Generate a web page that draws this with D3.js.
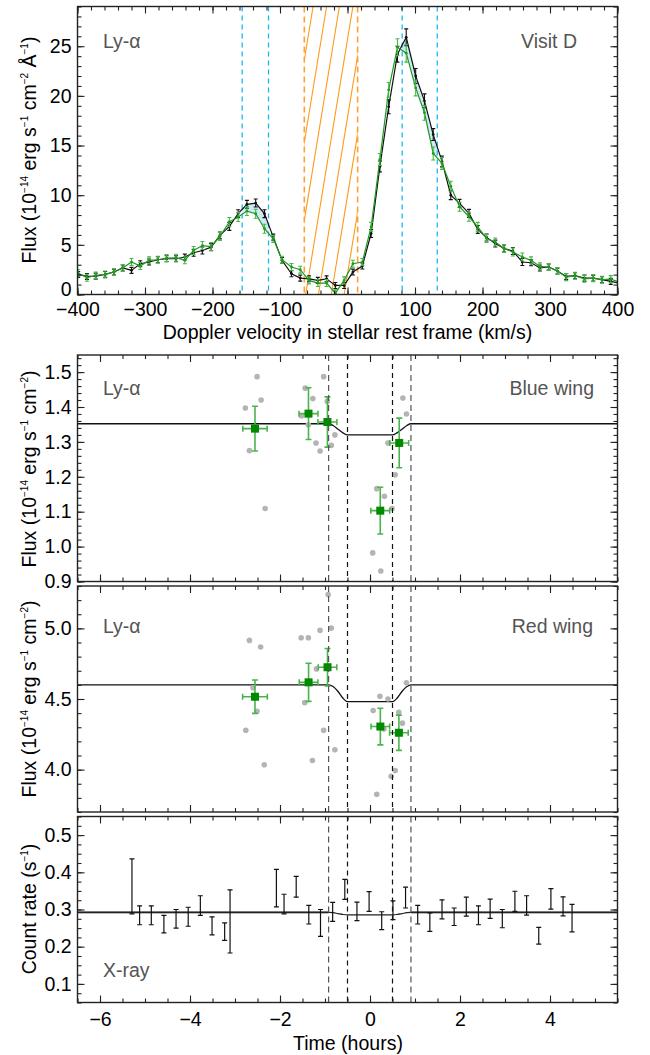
<!DOCTYPE html>
<html>
<head>
<meta charset="utf-8">
<script src="https://cdn.jsdelivr.net/npm/d3@7"></script>
<style>
body { margin: 0; background: #fff; }
svg text { font-family: "Liberation Sans", Arial, Helvetica, sans-serif; }
</style>
</head>
<body>
<svg id="fig" width="650" height="1055"></svg>
<script>
// ---- Ly-alpha spectrum (top panel) ----
var vel = [-399,-386,-373,-359,-346,-333,-320,-307,-294,-281,-268,-254,-241,-228,-215,-202,-189,-175,-162,-149,
  -136,-123,-110,-97,-83,-70,-57,-44,-31,-18,-5,8,22,35,48,61,74,87,101,114,127,140,153,166,180,193,206,219,232,
  245,259,272,285,298,311,324,337,351,364,377,390,403];
var fluxBlack = [2.02,1.82,1.85,2.02,2.26,2.67,2.43,3.10,3.27,3.50,3.60,3.60,3.77,4.20,4.43,4.77,5.95,6.86,8.14,9.08,
  9.21,8.14,5.78,3.44,2.09,1.65,1.58,1.42,1.58,0.91,0.91,2.26,2.87,6.14,12.9,18.9,24.2,25.9,22.0,19.5,16.1,13.4,10.0,
  9.18,8.17,6.55,5.74,5.13,4.63,4.38,3.27,3.20,2.67,2.77,2.36,1.82,1.89,1.65,1.65,1.49,1.32,1.15];
var errBlack = [0.3,0.3,0.3,0.3,0.3,0.3,0.3,0.3,0.3,0.3,0.3,0.3,0.3,0.35,0.35,0.35,0.35,0.4,0.4,0.4,0.4,0.4,
  0.3,0.3,0.3,0.3,0.3,0.3,0.3,0.3,0.3,0.3,0.3,0.4,0.55,0.7,0.8,0.85,0.75,0.7,0.6,0.55,0.45,0.4,0.4,0.4,
  0.35,0.35,0.35,0.35,0.35,0.3,0.3,0.3,0.3,0.3,0.3,0.3,0.3,0.3,0.3,0.3];
var fluxGreen = [2.16,1.69,1.92,2.02,2.26,2.67,3.27,2.87,3.44,3.50,3.67,3.70,3.44,4.43,4.93,4.83,5.85,7.30,7.80,8.40,
  8.13,6.62,5.60,3.50,2.77,2.50,1.42,1.15,1.15,0.13,1.42,3.10,3.27,6.81,13.6,20.6,24.9,24.3,20.8,18.3,14.2,13.2,10.9,
  8.84,7.83,6.81,5.64,5.29,4.63,4.28,3.78,3.44,2.83,2.77,2.36,1.75,1.89,1.58,1.65,1.49,1.55,1.25];
var errGreen = [0.35,0.35,0.35,0.35,0.35,0.35,0.35,0.35,0.35,0.35,0.35,0.35,0.35,0.4,0.4,0.4,0.4,0.45,0.45,0.45,0.45,0.45,
  0.35,0.35,0.35,0.35,0.35,0.35,0.35,0.35,0.35,0.35,0.35,0.45,0.6,0.75,0.85,0.9,0.8,0.75,0.65,0.6,0.5,0.45,0.45,0.45,
  0.4,0.4,0.4,0.4,0.4,0.35,0.35,0.35,0.35,0.35,0.35,0.35,0.35,0.35,0.35,0.35];
var blueBand = [-156, -117];
var redBand = [81, 133];
var geoBand = [-64, 15];
var hatchStart = [-140, -121, -101, -82, -62, -43, -24, -5];

// ---- Light curves ----
var dashTimes = [-0.92, -0.5, 0.5, 0.91];

var blueTime = [-2.556, -1.367, -0.946, 0.228, 0.649];
var blueFlux = [1.338, 1.381, 1.357, 1.103, 1.297];
var blueErr = [0.064, 0.074, 0.072, 0.067, 0.071];
var timeErr = [0.27, 0.21, 0.21, 0.21, 0.21];
var blueDotT = [-2.51,-2.42,-2.77,-2.68,-2.33,-1.44,-1.27,-1.52,-1.37,-1.20,-1.11,-1.03,-0.95,-0.78,-0.86,0.06,0.24,0.15,0.32,0.49,0.40,0.56,0.73,0.81];
var blueDotV = [1.487,1.420,1.397,1.275,1.109,1.454,1.424,1.374,1.349,1.297,1.274,1.487,1.416,1.320,1.290,0.982,0.930,1.166,1.144,1.109,1.297,1.206,1.426,1.380];
var modelT = [-6.5, -0.92, -0.82, -0.71, -0.6, -0.5, 0.5, 0.6, 0.71, 0.82, 0.91, 5.5];
var blueModel = [1.352, 1.352, 1.347, 1.336, 1.326, 1.320, 1.320, 1.326, 1.336, 1.347, 1.352, 1.352];

var redTime = [-2.556, -1.365, -0.944, 0.23, 0.642];
var redFlux = [4.516, 4.618, 4.725, 4.305, 4.261];
var redErr = [0.118, 0.135, 0.133, 0.13, 0.125];
var redTimeErr = [0.275, 0.207, 0.207, 0.207, 0.207];
var redDotT = [-2.68,-2.43,-2.60,-2.51,-2.76,-2.35,-1.53,-1.37,-1.11,-0.86,-0.93,-1.19,-1.45,-1.03,-1.28,-0.78,0.07,0.22,0.40,0.31,0.15,0.47,0.56,0.64,0.72,0.81];
var redDotV = [4.915,4.868,4.580,4.413,4.279,4.035,4.934,4.934,4.986,5.002,5.240,4.713,4.474,4.279,4.065,4.141,4.418,4.519,4.500,4.287,3.826,3.953,3.993,4.406,4.329,4.615];
var redModel = [4.600, 4.600, 4.588, 4.553, 4.505, 4.481, 4.481, 4.505, 4.553, 4.588, 4.600, 4.600];

var xrayTime = [-5.29,-5.12,-4.86,-4.58,-4.31,-4.04,-3.77,-3.51,-3.23,-3.11,-2.08,-1.91,-1.64,-1.36,-1.10,-0.83,-0.56,-0.29,
  -0.02,0.26,0.51,0.79,1.06,1.33,1.60,1.87,2.14,2.41,2.67,2.94,3.22,3.48,3.75,4.02,4.29,4.49];
var xrayLow = [0.288,0.259,0.259,0.237,0.250,0.255,0.284,0.232,0.217,0.183,0.307,0.288,0.333,0.261,0.228,0.268,0.327,0.270,
  0.295,0.246,0.273,0.304,0.261,0.241,0.275,0.257,0.282,0.259,0.276,0.251,0.295,0.285,0.207,0.301,0.283,0.240];
var xrayHigh = [0.436,0.310,0.310,0.284,0.300,0.306,0.337,0.280,0.264,0.353,0.408,0.341,0.389,0.311,0.300,0.319,0.381,0.320,
  0.348,0.294,0.323,0.360,0.311,0.291,0.326,0.304,0.333,0.310,0.328,0.300,0.349,0.337,0.252,0.356,0.334,0.314];
var xrayModel = [0.2925, 0.2925, 0.2915, 0.289, 0.2865, 0.2855, 0.2855, 0.2865, 0.289, 0.2915, 0.2925, 0.2925];

var svg = d3.select("#fig");
var L = 77.5, R = 617.5;
var FS = 19.5;

var xV = d3.scaleLinear().domain([-400, 400]).range([L, R]);
var yF = d3.scaleLinear().domain([0, 29]).range([294.5, 6.5]);
var xT = d3.scaleLinear().domain([-6.5, 5.5]).range([L, R]);
var yB = d3.scaleLinear().domain([0.9, 1.549]).range([581.5, 355]);
var yR = d3.scaleLinear().domain([3.7, 5.3]).range([812, 586]);
var yX = d3.scaleLinear().domain([0.05, 0.55]).range([1002.5, 816.5]);

var defs = svg.append("defs");

function clipGroup(id, x0, x1, y) {
  defs.append("clipPath").attr("id", id).append("rect")
    .attr("x", x0).attr("y", y.range()[1])
    .attr("width", x1 - x0).attr("height", y.range()[0] - y.range()[1]);
  return svg.append("g").attr("clip-path", "url(#" + id + ")");
}

function ticks(x, y, xMaj, xMin, yMaj, yMin) {
  var top = y.range()[1], bot = y.range()[0];
  var g = svg.append("g");
  [[xMaj, 7], [xMin, 4]].forEach(function(t) {
    g.append("g").attr("transform", "translate(0," + bot + ")")
      .call(d3.axisBottom(x).tickValues(t[0]).tickSize(-t[1]).tickFormat(""));
    g.append("g").attr("transform", "translate(0," + top + ")")
      .call(d3.axisTop(x).tickValues(t[0]).tickSize(-t[1]).tickFormat(""));
  });
  [[yMaj, 7], [yMin, 4]].forEach(function(t) {
    g.append("g").attr("transform", "translate(" + L + ",0)")
      .call(d3.axisLeft(y).tickValues(t[0]).tickSize(-t[1]).tickFormat(""));
    g.append("g").attr("transform", "translate(" + R + ",0)")
      .call(d3.axisRight(y).tickValues(t[0]).tickSize(-t[1]).tickFormat(""));
  });
  g.selectAll(".domain").remove();
  g.selectAll("line").attr("stroke", "#222").attr("stroke-width", 1.1);
  svg.append("rect").attr("x", L).attr("y", top)
    .attr("width", R - L).attr("height", bot - top)
    .attr("fill", "none").attr("stroke", "#222").attr("stroke-width", 1.4);
}

function yLabels(y, vals, fmt) {
  var g = svg.append("g").attr("transform", "translate(" + L + ",0)")
    .call(d3.axisLeft(y).tickValues(vals).tickSize(0).tickPadding(6).tickFormat(fmt));
  g.select(".domain").remove();
  g.attr("font-size", FS).attr("font-family", null);
  g.selectAll("text").attr("fill", "#000");
  return g;
}

function xLabels(x, y0, vals, pad) {
  var g = svg.append("g").attr("transform", "translate(0," + y0 + ")")
    .call(d3.axisBottom(x).tickValues(vals).tickSize(0).tickPadding(pad).tickFormat(d3.format("d")));
  g.select(".domain").remove();
  g.attr("font-size", FS).attr("font-family", null);
  g.selectAll("text").attr("fill", "#000");
}

function yTitle(xb, yc, parts) {
  var t = svg.append("text")
    .attr("transform", "translate(" + xb + "," + yc + ") rotate(-90)")
    .attr("text-anchor", "middle").attr("font-size", FS).attr("fill", "#000");
  var raised = false;
  parts.forEach(function(p) {
    var sup = p.charAt(0) === "^";
    var s = t.append("tspan").text(sup ? p.slice(1) : p);
    if (sup) { s.attr("font-size", 10).attr("dy", raised ? 0 : -8); raised = true; }
    else { s.attr("dy", raised ? 8 : 0); raised = false; }
  });
}

function note(x, y, txt, anchor) {
  svg.append("text").attr("x", x).attr("y", y).attr("text-anchor", anchor || "start")
    .attr("font-size", FS).attr("fill", "#555").text(txt);
}

// ================= Panel 1: spectrum =================
var g1 = clipGroup("c1", L, R, yF);
var idx = d3.range(vel.length);

// absorption fill between black and green, only inside the cyan bands
[blueBand, redBand].forEach(function(b, i) {
  defs.append("clipPath").attr("id", "band" + i).append("rect")
    .attr("x", xV(b[0])).attr("y", 6.5).attr("width", xV(b[1]) - xV(b[0])).attr("height", 288);
  g1.append("path").datum(idx)
    .attr("clip-path", "url(#band" + i + ")")
    .attr("fill", "#cfe9f6")
    .attr("d", d3.area().x(function(i) { return xV(vel[i]); })
      .y0(function(i) { return yF(fluxGreen[i]); })
      .y1(function(i) { return yF(fluxBlack[i]); }));
});

// geocoronal band with hatching
defs.append("clipPath").attr("id", "geo").append("rect")
  .attr("x", xV(geoBand[0])).attr("y", 6.5).attr("width", xV(geoBand[1]) - xV(geoBand[0])).attr("height", 288);
var gh = g1.append("g").attr("clip-path", "url(#geo)");
gh.selectAll("line").data(hatchStart).enter().append("line")
  .attr("x1", function(d) { return xV(d); }).attr("y1", yF(0))
  .attr("x2", function(d) { return xV(d + 70); }).attr("y2", yF(29))
  .attr("stroke", "#ff9a1a").attr("stroke-width", 1.1);
g1.selectAll(".geo").data(geoBand).enter().append("line")
  .attr("x1", function(d) { return xV(d); }).attr("x2", function(d) { return xV(d); })
  .attr("y1", 6.5).attr("y2", 294.5)
  .attr("stroke", "#ffa030").attr("stroke-width", 1.6).attr("stroke-dasharray", "6,4");

g1.selectAll(".cy").data(blueBand.concat(redBand)).enter().append("line")
  .attr("x1", function(d) { return xV(d); }).attr("x2", function(d) { return xV(d); })
  .attr("y1", 6.5).attr("y2", 294.5)
  .attr("stroke", "#18b6f0").attr("stroke-width", 1.3).attr("stroke-dasharray", "5,4");

function spectrum(flux, err, lineCol, errCol) {
  var g = g1.append("g");
  g.append("path").datum(idx).attr("fill", "none").attr("stroke", lineCol).attr("stroke-width", 1.2)
    .attr("d", d3.line().x(function(i) { return xV(vel[i]); }).y(function(i) { return yF(flux[i]); }));
  var eb = g.selectAll(".eb").data(idx).enter().append("g").attr("stroke", errCol).attr("stroke-width", 1.1);
  eb.append("line").attr("x1", function(i) { return xV(vel[i]); }).attr("x2", function(i) { return xV(vel[i]); })
    .attr("y1", function(i) { return yF(flux[i] - err[i]); }).attr("y2", function(i) { return yF(flux[i] + err[i]); });
  [-1, 1].forEach(function(s) {
    eb.append("line").attr("x1", function(i) { return xV(vel[i]) - 2; }).attr("x2", function(i) { return xV(vel[i]) + 2; })
      .attr("y1", function(i) { return yF(flux[i] + s * err[i]); }).attr("y2", function(i) { return yF(flux[i] + s * err[i]); });
  });
  g.selectAll(".pt").data(idx).enter().append("circle")
    .attr("cx", function(i) { return xV(vel[i]); }).attr("cy", function(i) { return yF(flux[i]); })
    .attr("r", 1.4).attr("fill", lineCol);
}
spectrum(fluxBlack, errBlack, "#111", "#111");
spectrum(fluxGreen, errGreen, "#1e9a1e", "#45b845");

ticks(xV, yF, d3.range(-400, 401, 100), d3.range(-400, 401, 20), d3.range(0, 26, 5), d3.range(0, 29.5, 1));
yLabels(yF, d3.range(0, 26, 5), d3.format("d"))
  .selectAll("text").filter(function(d) { return d === 0; }).attr("dy", "0.06em");
xLabels(xV, 294.5, d3.range(-400, 401, 100), 8);
svg.append("text").attr("x", 347.5).attr("y", 339).attr("text-anchor", "middle")
  .attr("font-size", FS).text("Doppler velocity in stellar rest frame (km/s)");
yTitle(36, 150, ["Flux (10", "^−14", " erg s", "^−1", " cm", "^−2", " Å", "^−1", ")"]);
note(103, 48, "Ly-α");
note(577, 48, "Visit D", "end");

// ================= Light-curve panels =================
function dashes(y) {
  var g = svg.append("g");
  g.selectAll("line").data(dashTimes).enter().append("line")
    .attr("x1", function(d) { return xT(d); }).attr("x2", function(d) { return xT(d); })
    .attr("y1", y.range()[1]).attr("y2", y.range()[0])
    .attr("stroke", function(d, i) { return (i === 0 || i === 3) ? "#555" : "#111"; })
    .attr("stroke-width", 1.2)
    .attr("stroke-dasharray", function(d, i) { return (i === 0 || i === 3) ? "6,4" : "5,4"; });
}

function modelLine(g, y, vals, col, w) {
  g.append("path").datum(d3.range(modelT.length)).attr("fill", "none")
    .attr("stroke", col).attr("stroke-width", w)
    .attr("d", d3.line().curve(d3.curveMonotoneX)
      .x(function(i) { return xT(modelT[i]); }).y(function(i) { return y(vals[i]); }));
}

function wingPanel(id, y, dotT, dotV, tt, ff, ee, te, model) {
  var g = clipGroup(id, L, R, y);
  dashes(y);
  modelLine(g, y, model, "#111", 1.3);
  g.selectAll(".dot").data(dotT).enter().append("circle")
    .attr("cx", function(d) { return xT(d); }).attr("cy", function(d, i) { return y(dotV[i]); })
    .attr("r", 2.8).attr("fill", "#b4b4b4");
  var k = d3.range(tt.length);
  var eb = g.selectAll(".eb").data(k).enter().append("g").attr("stroke", "#4cb34c").attr("stroke-width", 1.6);
  eb.append("line").attr("x1", function(i) { return xT(tt[i]); }).attr("x2", function(i) { return xT(tt[i]); })
    .attr("y1", function(i) { return y(ff[i] - ee[i]); }).attr("y2", function(i) { return y(ff[i] + ee[i]); });
  eb.append("line").attr("x1", function(i) { return xT(tt[i] - te[i]); }).attr("x2", function(i) { return xT(tt[i] + te[i]); })
    .attr("y1", function(i) { return y(ff[i]); }).attr("y2", function(i) { return y(ff[i]); });
  [-1, 1].forEach(function(s) {
    eb.append("line").attr("x1", function(i) { return xT(tt[i]) - 3; }).attr("x2", function(i) { return xT(tt[i]) + 3; })
      .attr("y1", function(i) { return y(ff[i] + s * ee[i]); }).attr("y2", function(i) { return y(ff[i] + s * ee[i]); });
    eb.append("line").attr("y1", function(i) { return y(ff[i]) - 3; }).attr("y2", function(i) { return y(ff[i]) + 3; })
      .attr("x1", function(i) { return xT(tt[i] + s * te[i]); }).attr("x2", function(i) { return xT(tt[i] + s * te[i]); });
  });
  g.selectAll(".sq").data(k).enter().append("rect")
    .attr("x", function(i) { return xT(tt[i]) - 4; }).attr("y", function(i) { return y(ff[i]) - 4; })
    .attr("width", 8).attr("height", 8).attr("fill", "#008a00");
}

var hourMaj = d3.range(-6, 5, 2);
var hourMin = d3.range(-6.5, 5.6, 0.5);

// Panel 2: blue wing
wingPanel("c2", yB, blueDotT, blueDotV, blueTime, blueFlux, blueErr, timeErr, blueModel);
ticks(xT, yB, hourMaj, hourMin, d3.range(0.9, 1.51, 0.1), d3.range(0.9, 1.55, 0.02));
yLabels(yB, d3.range(0.9, 1.51, 0.1), d3.format(".1f"));
yTitle(36, 469, ["Flux (10", "^−14", " erg s", "^−1", " cm", "^−2", ")"]);
note(103, 395, "Ly-α");
note(594, 395, "Blue wing", "end");

// Panel 3: red wing
wingPanel("c3", yR, redDotT, redDotV, redTime, redFlux, redErr, redTimeErr, redModel);
ticks(xT, yR, hourMaj, hourMin, [4.0, 4.5, 5.0], d3.range(3.7, 5.31, 0.1));
yLabels(yR, [4.0, 4.5, 5.0], d3.format(".1f"));
yTitle(36, 699, ["Flux (10", "^−14", " erg s", "^−1", " cm", "^−2", ")"]);
note(103, 633, "Ly-α");
note(593, 633, "Red wing", "end");

// Panel 4: X-ray
var g4 = clipGroup("c4", L, R, yX);
dashes(yX);
g4.append("line").attr("x1", L).attr("x2", xT(modelT[1])).attr("y1", yX(xrayModel[0])).attr("y2", yX(xrayModel[0]))
  .attr("stroke", "#777").attr("stroke-width", 2.2);
g4.append("line").attr("x1", xT(modelT[10])).attr("x2", R).attr("y1", yX(xrayModel[11])).attr("y2", yX(xrayModel[11]))
  .attr("stroke", "#777").attr("stroke-width", 2.2);
modelLine(g4, yX, xrayModel, "#222", 1.2);
var kx = d3.range(xrayTime.length);
var xb = g4.selectAll(".xb").data(kx).enter().append("g").attr("stroke", "#111").attr("stroke-width", 1.2);
xb.append("line").attr("x1", function(i) { return xT(xrayTime[i]); }).attr("x2", function(i) { return xT(xrayTime[i]); })
  .attr("y1", function(i) { return yX(xrayLow[i]); }).attr("y2", function(i) { return yX(xrayHigh[i]); });
[xrayLow, xrayHigh].forEach(function(arr) {
  xb.append("line").attr("x1", function(i) { return xT(xrayTime[i]) - 2.5; }).attr("x2", function(i) { return xT(xrayTime[i]) + 2.5; })
    .attr("y1", function(i) { return yX(arr[i]); }).attr("y2", function(i) { return yX(arr[i]); });
});
ticks(xT, yX, hourMaj, hourMin, d3.range(0.1, 0.51, 0.1), d3.range(0.05, 0.551, 0.025));
yLabels(yX, d3.range(0.1, 0.51, 0.1), d3.format(".1f"));
xLabels(xT, 1002.5, hourMaj, 10);
yTitle(36, 909, ["Count rate (s", "^−1", ")"]);
note(103, 977, "X-ray");
svg.append("text").attr("x", 348).attr("y", 1050).attr("text-anchor", "middle")
  .attr("font-size", FS).text("Time (hours)");
</script>
</body>
</html>
